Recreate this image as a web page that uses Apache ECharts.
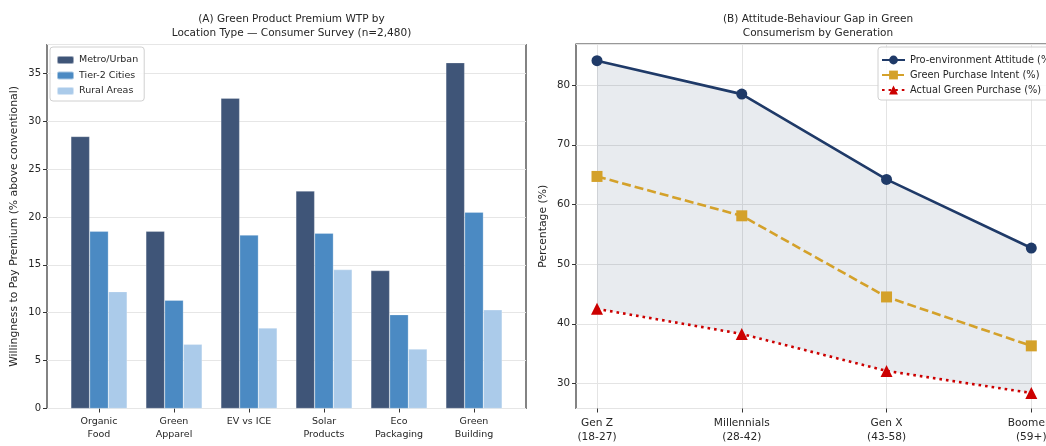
<!DOCTYPE html>
<html>
<head>
<meta charset="utf-8">
<script src="https://cdn.jsdelivr.net/npm/echarts@6/dist/echarts.min.js"></script>
<style>
html,body{margin:0;padding:0;background:#fff;}
#chart{width:1046px;height:446px;}
</style>
</head>
<body>
<div id="chart"></div>
<script>
// ---- Panel A data ----
const productCategories = ['Organic\nFood', 'Green\nApparel', 'EV vs ICE', 'Solar\nProducts', 'Eco\nPackaging', 'Green\nBuilding'];
const metroUrban = [28.4, 18.5, 32.4, 22.7, 14.4, 36.1];
const tier2Cities = [18.5, 11.3, 18.1, 18.3, 9.8, 20.5];
const ruralAreas = [12.2, 6.7, 8.4, 14.5, 6.2, 10.3];

// ---- Panel B data ----
const generations = ['Gen Z\n(18-27)', 'Millennials\n(28-42)', 'Gen X\n(43-58)', 'Boomers\n(59+)'];
const proEnvAttitude = [84.1, 78.5, 64.2, 52.7];
const purchaseIntent = [64.7, 58.1, 44.5, 36.3];
const actualPurchase = [42.5, 38.3, 32.1, 28.4];

const FONT = 'DejaVu Sans';
const TXT = '#262626';

const gapFill = proEnvAttitude.map((v, i) => +(v - actualPurchase[i]).toFixed(2));

const chart = echarts.init(document.getElementById('chart'), null, {renderer: 'canvas'});

const baseGrid = {containLabel: false, outerBoundsMode: 'none'};

const option = {
  backgroundColor: '#fff',
  animation: false,
  textStyle: {fontFamily: FONT, color: TXT},
  title: [
    {text: '(A) Green Product Premium WTP by\nLocation Type \u2014 Consumer Survey (n=2,480)',
     left: 286.5, top: 7, textAlign: 'center',
     textStyle: {fontFamily: FONT, fontSize: 10.5, fontWeight: 'normal', color: TXT, lineHeight: 14.5}},
    {text: '(B) Attitude-Behaviour Gap in Green\nConsumerism by Generation',
     left: 813, top: 7, textAlign: 'center',
     textStyle: {fontFamily: FONT, fontSize: 10.5, fontWeight: 'normal', color: TXT, lineHeight: 14.5}}
  ],
  legend: [
    {data: ['Metro/Urban', 'Tier-2 Cities', 'Rural Areas'],
     orient: 'vertical', left: 50, top: 47,
     itemWidth: 17, itemHeight: 8, itemGap: 5.5,
     padding: [8, 6, 5, 6],
     borderColor: '#d0d0d0', borderWidth: 1, borderRadius: 3,
     backgroundColor: 'rgba(255,255,255,0.85)',
     textStyle: {fontFamily: FONT, fontSize: 9.5, color: TXT}},
    {data: ['Pro-environment Attitude (%)', 'Green Purchase Intent (%)', 'Actual Green Purchase (%)'],
     orient: 'vertical', left: 878, top: 47,
     itemWidth: 23, itemHeight: 11, itemGap: 5,
     padding: [8, 6, 5, 3],
     borderColor: '#d0d0d0', borderWidth: 1, borderRadius: 3,
     backgroundColor: 'rgba(255,255,255,0.85)',
     textStyle: {fontFamily: FONT, fontSize: 9.8, color: TXT}}
  ],
  grid: [
    Object.assign({left: 47, top: 44.5, width: 479, height: 364, show: true, borderColor: '#333', borderWidth: 1.2, backgroundColor: 'transparent'}, baseGrid),
    Object.assign({left: 61.5, top: 44.5, width: 450, height: 364}, baseGrid),
    Object.assign({left: 576, top: 44, width: 476, height: 364.5, show: true, borderColor: '#333', borderWidth: 1.2, backgroundColor: 'transparent'}, baseGrid),
    Object.assign({left: 597, top: 44, width: 434.3, height: 364.5}, baseGrid)
  ],
  xAxis: [
    {gridIndex: 0, type: 'value', min: 0, max: 1, show: true,
     axisLine: {show: false}, axisTick: {show: false}, axisLabel: {show: false}, splitLine: {show: false}},
    {gridIndex: 1, type: 'category', data: productCategories, boundaryGap: true,
     axisLine: {show: false},
     axisTick: {show: true, alignWithLabel: true, length: 4, lineStyle: {color: '#333'}},
     axisLabel: {fontFamily: FONT, fontSize: 9.5, color: TXT, lineHeight: 12.5, margin: 7, interval: 0},
     splitLine: {show: false}},
    {gridIndex: 2, type: 'value', min: 0, max: 1, show: true,
     axisLine: {show: false}, axisTick: {show: false}, axisLabel: {show: false}, splitLine: {show: false}},
    {gridIndex: 3, type: 'category', data: generations, boundaryGap: false,
     axisLine: {show: false},
     axisTick: {show: true, length: 4, interval: 0, lineStyle: {color: '#333'}},
     axisLabel: {fontFamily: FONT, fontSize: 10.6, color: TXT, lineHeight: 14.5, margin: 7, interval: 0},
     splitLine: {show: true, interval: 0, lineStyle: {color: '#e4e4e4', width: 1}}}
  ],
  yAxis: [
    {gridIndex: 0, type: 'value', min: 0, max: 38, splitNumber: 8,
     name: 'Willingness to Pay Premium (% above conventional)', nameLocation: 'middle', nameGap: 27,
     nameTextStyle: {fontFamily: FONT, fontSize: 10.8, color: TXT},
     axisLine: {show: false},
     axisTick: {show: true, length: 4, lineStyle: {color: '#333'}},
     axisLabel: {fontFamily: FONT, fontSize: 10, color: TXT, margin: 6, showMaxLabel: false},
     splitLine: {show: true, lineStyle: {color: '#e6e6e6', width: 1}}},
    {gridIndex: 1, type: 'value', min: 0, max: 38, show: false, splitLine: {show: false}},
    {gridIndex: 2, type: 'value', min: 25.8, max: 86.9, splitNumber: 6,
     name: 'Percentage (%)', nameLocation: 'middle', nameGap: 27,
     nameTextStyle: {fontFamily: FONT, fontSize: 10.8, color: TXT},
     axisLine: {show: false},
     axisTick: {show: true, length: 4, lineStyle: {color: '#333'}},
     axisLabel: {fontFamily: FONT, fontSize: 10.3, color: TXT, margin: 6, showMinLabel: false, showMaxLabel: false},
     splitLine: {show: true, lineStyle: {color: '#e4e4e4', width: 1}}},
    {gridIndex: 3, type: 'value', min: 25.8, max: 86.9, show: false, splitLine: {show: false}}
  ],
  series: [
    {name: 'Metro/Urban', type: 'bar', xAxisIndex: 1, yAxisIndex: 1, data: metroUrban,
     barWidth: 18.75, barGap: '0%', itemStyle: {color: '#3f5578', borderColor: 'rgba(255,255,255,0.5)', borderWidth: 0.5}},
    {name: 'Tier-2 Cities', type: 'bar', xAxisIndex: 1, yAxisIndex: 1, data: tier2Cities,
     barWidth: 18.75, barGap: '0%', itemStyle: {color: '#4b8ac3', borderColor: 'rgba(255,255,255,0.5)', borderWidth: 0.5}},
    {name: 'Rural Areas', type: 'bar', xAxisIndex: 1, yAxisIndex: 1, data: ruralAreas,
     barWidth: 18.75, barGap: '0%', itemStyle: {color: '#abcbea', borderColor: 'rgba(255,255,255,0.5)', borderWidth: 0.5}},

    {name: 'Actual Green Purchase (%)', type: 'line', xAxisIndex: 3, yAxisIndex: 3, data: actualPurchase,
     stack: 'gap', z: 4,
     lineStyle: {color: '#cc0000', width: 2.6, type: [2.6, 4]},
     itemStyle: {color: '#cc0000'}, symbol: 'triangle', symbolSize: 12, showSymbol: true},
    {name: 'gapFill', type: 'line', xAxisIndex: 3, yAxisIndex: 3, data: gapFill,
     stack: 'gap', z: 1, symbol: 'none', silent: true,
     lineStyle: {width: 0, opacity: 0},
     areaStyle: {color: 'rgba(31,56,100,0.1)', opacity: 1}},
    {name: 'Green Purchase Intent (%)', type: 'line', xAxisIndex: 3, yAxisIndex: 3, data: purchaseIntent,
     z: 5,
     lineStyle: {color: '#d4a12a', width: 2.6, type: [9, 4]},
     itemStyle: {color: '#d4a12a'}, symbol: 'rect', symbolSize: 11},
    {name: 'Pro-environment Attitude (%)', type: 'line', xAxisIndex: 3, yAxisIndex: 3, data: proEnvAttitude,
     z: 6,
     lineStyle: {color: '#1f3a68', width: 2.6},
     itemStyle: {color: '#1f3a68'}, symbol: 'circle', symbolSize: 11}
  ]
};

chart.setOption(option);
</script>
</body>
</html>
